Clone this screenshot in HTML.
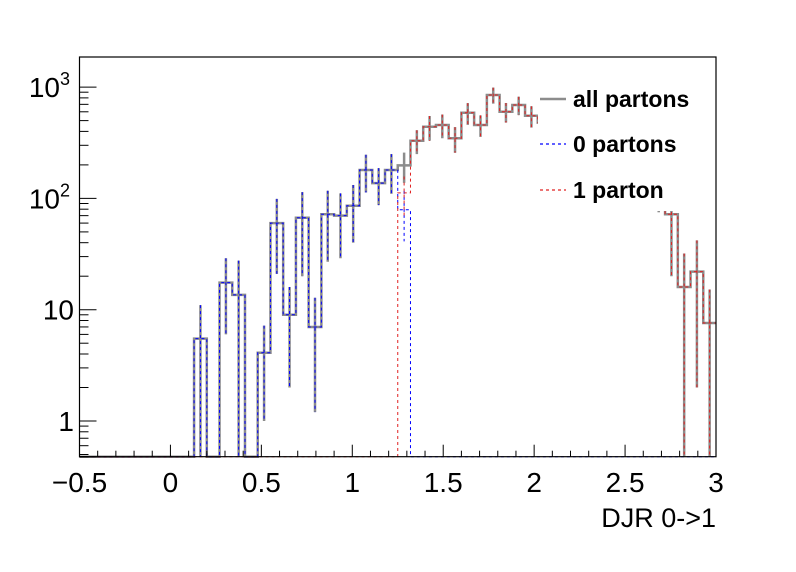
<!DOCTYPE html>
<html><head><meta charset="utf-8"><style>
html,body{margin:0;padding:0;background:#fff}
svg{display:block;font-family:"Liberation Sans",sans-serif}
</style></head><body>
<svg id="c" width="796" height="572" viewBox="0 0 796 572"></svg>
<script>
const binLow = -0.5, binWidth = 0.07;
const allValues = [0,0,0,0,0,0,0,0,0,5.5,0,17.5,13.6,0,4.1,60,9,67,7,72,70,86,180,137,180,198,330,440,457,347,588,457,850,600,690,553,480,400,330,260,200,160,130,110,95,80,72,16,22,7.6];
const allErrors = [0,0,0,0,0,0,0,0,0,5.5,0,11.5,14,0,3.1,39,7,47,5.8,45,41,46,67,50,70,60,80,110,110,90,130,100,140,120,130,120,100,90,80,70,60,50,30,25,15,5,52,16,20,7.6];
const zeroValues = [0,0,0,0,0,0,0,0,0,5.5,0,17.5,13.6,0,4.1,60,9,67,7,72,70,86,180,137,180,79,0,0,0,0,0,0,0,0,0,0,0,0,0,0,0,0,0,0,0,0,0,0,0,0];
const oneValues = [0,0,0,0,0,0,0,0,0,0,0,0,0,0,0,0,0,0,0,0,0,0,0,0,0,112,330,440,457,347,588,457,850,600,690,553,480,400,330,260,200,160,130,110,95,80,72,16,22,7.6];
const xTickLabels = ["\u22120.5","0","0.5","1","1.5","2","2.5","3"];
const xTickValues = [-0.5,0,0.5,1,1.5,2,2.5,3];
const yTickExps = [0,1,2,3];

const L=79.5,R=716,T=57,B=456.7;
const X = v => L + (v+0.5)*(R-L)/3.5;
const Y = v => v<=0 ? B : Math.min(B, 421 - 111.3*Math.log10(v));
const NS="http://www.w3.org/2000/svg";
const svg=document.getElementById('c');
function mk(tag,attrs,parent){const e=document.createElementNS(NS,tag);for(const k in attrs)e.setAttribute(k,attrs[k]);(parent||svg).appendChild(e);return e;}

function histPath(vals){
  let d="M"+X(binLow)+","+Y(vals[0]);
  vals.forEach((v,i)=>{const x0=X(binLow+i*binWidth),x1=X(binLow+(i+1)*binWidth);d+=" L"+x0+","+Y(v)+" L"+x1+","+Y(v);});
  return d;
}
const gAll=mk('g',{});


mk('path',{d:histPath(allValues),fill:'none',stroke:'#8c8c8c','stroke-width':2.5},gAll);
allValues.forEach((v,i)=>{ if(v<=0)return; const xc=X(binLow+(i+0.5)*binWidth);
  const e=mk('line',{x1:xc,x2:xc,y1:Y(v+allErrors[i]),y2:Y(Math.max(v-allErrors[i],0)),stroke:'#8c8c8c','stroke-width':2.5},gAll);
  
  
});
function dashed(vals,col,name){
  const g=mk('g',{});
  
  
  mk('path',{d:histPath(vals),fill:'none',stroke:col,'stroke-width':1,'stroke-dasharray':'3,3'},g);
  vals.forEach((v,i)=>{ if(v<=0)return; const xc=X(binLow+(i+0.5)*binWidth);
    const err=allErrors[i]*Math.sqrt(v/allValues[i]);
    const e=mk('line',{x1:xc,x2:xc,y1:Y(v+err),y2:Y(Math.max(v-err,0)),stroke:col,'stroke-width':1,'stroke-dasharray':'3,3'},g);
    
    
  });
}
dashed(zeroValues,'#0000ff','series-0-partons');
dashed(oneValues,'#e02020','series-1-parton');

// legend
const lg=mk('g',{});


mk('rect',{x:538,y:59,width:176,height:152,fill:'#fff'},lg);
const entries=[["all partons",'#8c8c8c',99,null,2.5],["0 partons",'#0000ff',144,'3,3',1.2],["1 parton",'#e02020',190,'3,3',1.2]];
entries.forEach(en=>{
  const g=mk('g',{},lg);
  
  
  const a={x1:540,x2:566,y1:en[2],y2:en[2],stroke:en[1],'stroke-width':en[4]};
  if(en[3])a['stroke-dasharray']=en[3];
  mk('line',a,g);
  const t=mk('text',{x:573,y:en[2]+8,'font-size':23,'font-weight':'bold',fill:'#000'},g);
  t.textContent=en[0];
});

// frame
const fr=mk('rect',{x:L,y:T,width:R-L,height:B-T,fill:'none',stroke:'#000','stroke-width':1.2});



// x ticks
const xa=mk('g',{});


for(let k=0;k<=35;k++){const v=-0.5+k*0.1;const x=X(v);const major=(k%5===0);
  mk('line',{x1:x,x2:x,y1:B,y2:B-(major?12:6),stroke:'#000','stroke-width':1},xa);}
xTickValues.forEach((v,i)=>{const t=mk('text',{x:X(v),y:492,'font-size':28,'text-anchor':'middle',fill:'#000'},xa);t.textContent=xTickLabels[i];});
const xt=mk('text',{x:716,y:527,'font-size':27,'text-anchor':'end',fill:'#000'});
xt.textContent="DJR 0->1";



// y ticks
const ya=mk('g',{});


for(let e=-1;e<=3;e++){for(let m=1;m<=9;m++){const v=m*Math.pow(10,e);const y=Y(v);if(y>B+0.1||y<T)continue;
  mk('line',{x1:L,x2:L+(m===1?17:9),y1:y,y2:y,stroke:'#000','stroke-width':1},ya);}}
yTickExps.forEach(e=>{const y=Y(Math.pow(10,e))+10;
  const t=mk('text',{x:e>=2?70:74,y:y,'font-size':28,'text-anchor':'end',fill:'#000'},ya);
  if(e===0)t.textContent="1"; else if(e===1)t.textContent="10";
  else{t.textContent="10";const s=mk('tspan',{dy:-12,'font-size':18},t);s.textContent=String(e);}
});
</script>
</body></html>
